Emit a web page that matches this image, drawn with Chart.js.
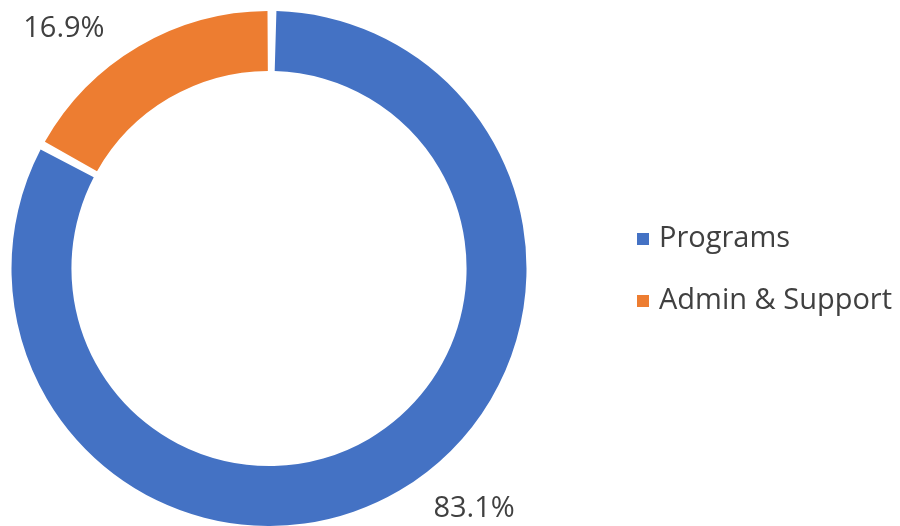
<!DOCTYPE html>
<html>
<head>
<meta charset="utf-8">
<script src="https://cdn.jsdelivr.net/npm/chart.js@4/dist/chart.umd.min.js"></script>
<style>
html,body{margin:0;padding:0;background:#fff;}
#wrap{position:relative;width:900px;height:526px;}
</style>
</head>
<body>
<div id="wrap"><canvas id="c" width="900" height="526"></canvas></div>
<script>
const categories = ["Programs", "Admin & Support"];
const values = [83.1, 16.9];
const valueLabels = ["83.1%", "16.9%"];
const colors = ["#4472C4", "#ED7D31"];

const FONT = "'Open Sans', 'Liberation Sans', sans-serif";
const TEXT = "#404040";

const labelsPlugin = {
  id: 'outsideLabels',
  afterDatasetsDraw(chart) {
    const ctx = chart.ctx;
    const meta = chart.getDatasetMeta(0);
    ctx.save();
    ctx.font = "29px " + FONT;
    ctx.fillStyle = TEXT;
    ctx.textAlign = 'center';
    ctx.textBaseline = 'middle';
    meta.data.forEach((arc, i) => {
      const p = arc.getProps(['x','y','startAngle','endAngle','outerRadius'], true);
      const mid = (p.startAngle + p.endAngle) / 2;
      const ex = p.x + Math.cos(mid) * p.outerRadius;
      const ey = p.y + Math.sin(mid) * p.outerRadius;
      const dx = Math.sign(Math.cos(mid)) * 76;
      const dy = Math.sign(Math.sin(mid)) * 20;
      ctx.fillText(valueLabels[i], ex + dx, ey + dy);
    });
    ctx.restore();
  }
};

const legendPlugin = {
  id: 'customLegend',
  afterDraw(chart) {
    const ctx = chart.ctx;
    ctx.save();
    ctx.font = "29px " + FONT;
    ctx.textBaseline = 'middle';
    ctx.textAlign = 'left';
    const x0 = 637, rowY = [239, 301], sq = 12;
    categories.forEach((c, i) => {
      ctx.fillStyle = colors[i];
      ctx.fillRect(x0, rowY[i] - sq / 2, sq, sq);
      ctx.fillStyle = TEXT;
      ctx.fillText(c, x0 + sq + 10, rowY[i]);
    });
    ctx.restore();
  }
};

new Chart(document.getElementById('c'), {
  type: 'doughnut',
  data: {
    labels: categories,
    datasets: [{
      data: values,
      backgroundColor: colors,
      borderWidth: 0,
      spacing: 5
    }]
  },
  options: {
    responsive: false,
    animation: false,
    cutout: '76.5%',
    layout: { padding: { left: 11, right: 373, top: 11, bottom: 0 } },
    plugins: { legend: { display: false }, tooltip: { enabled: false } }
  },
  plugins: [labelsPlugin, legendPlugin]
});
</script>
</body>
</html>
